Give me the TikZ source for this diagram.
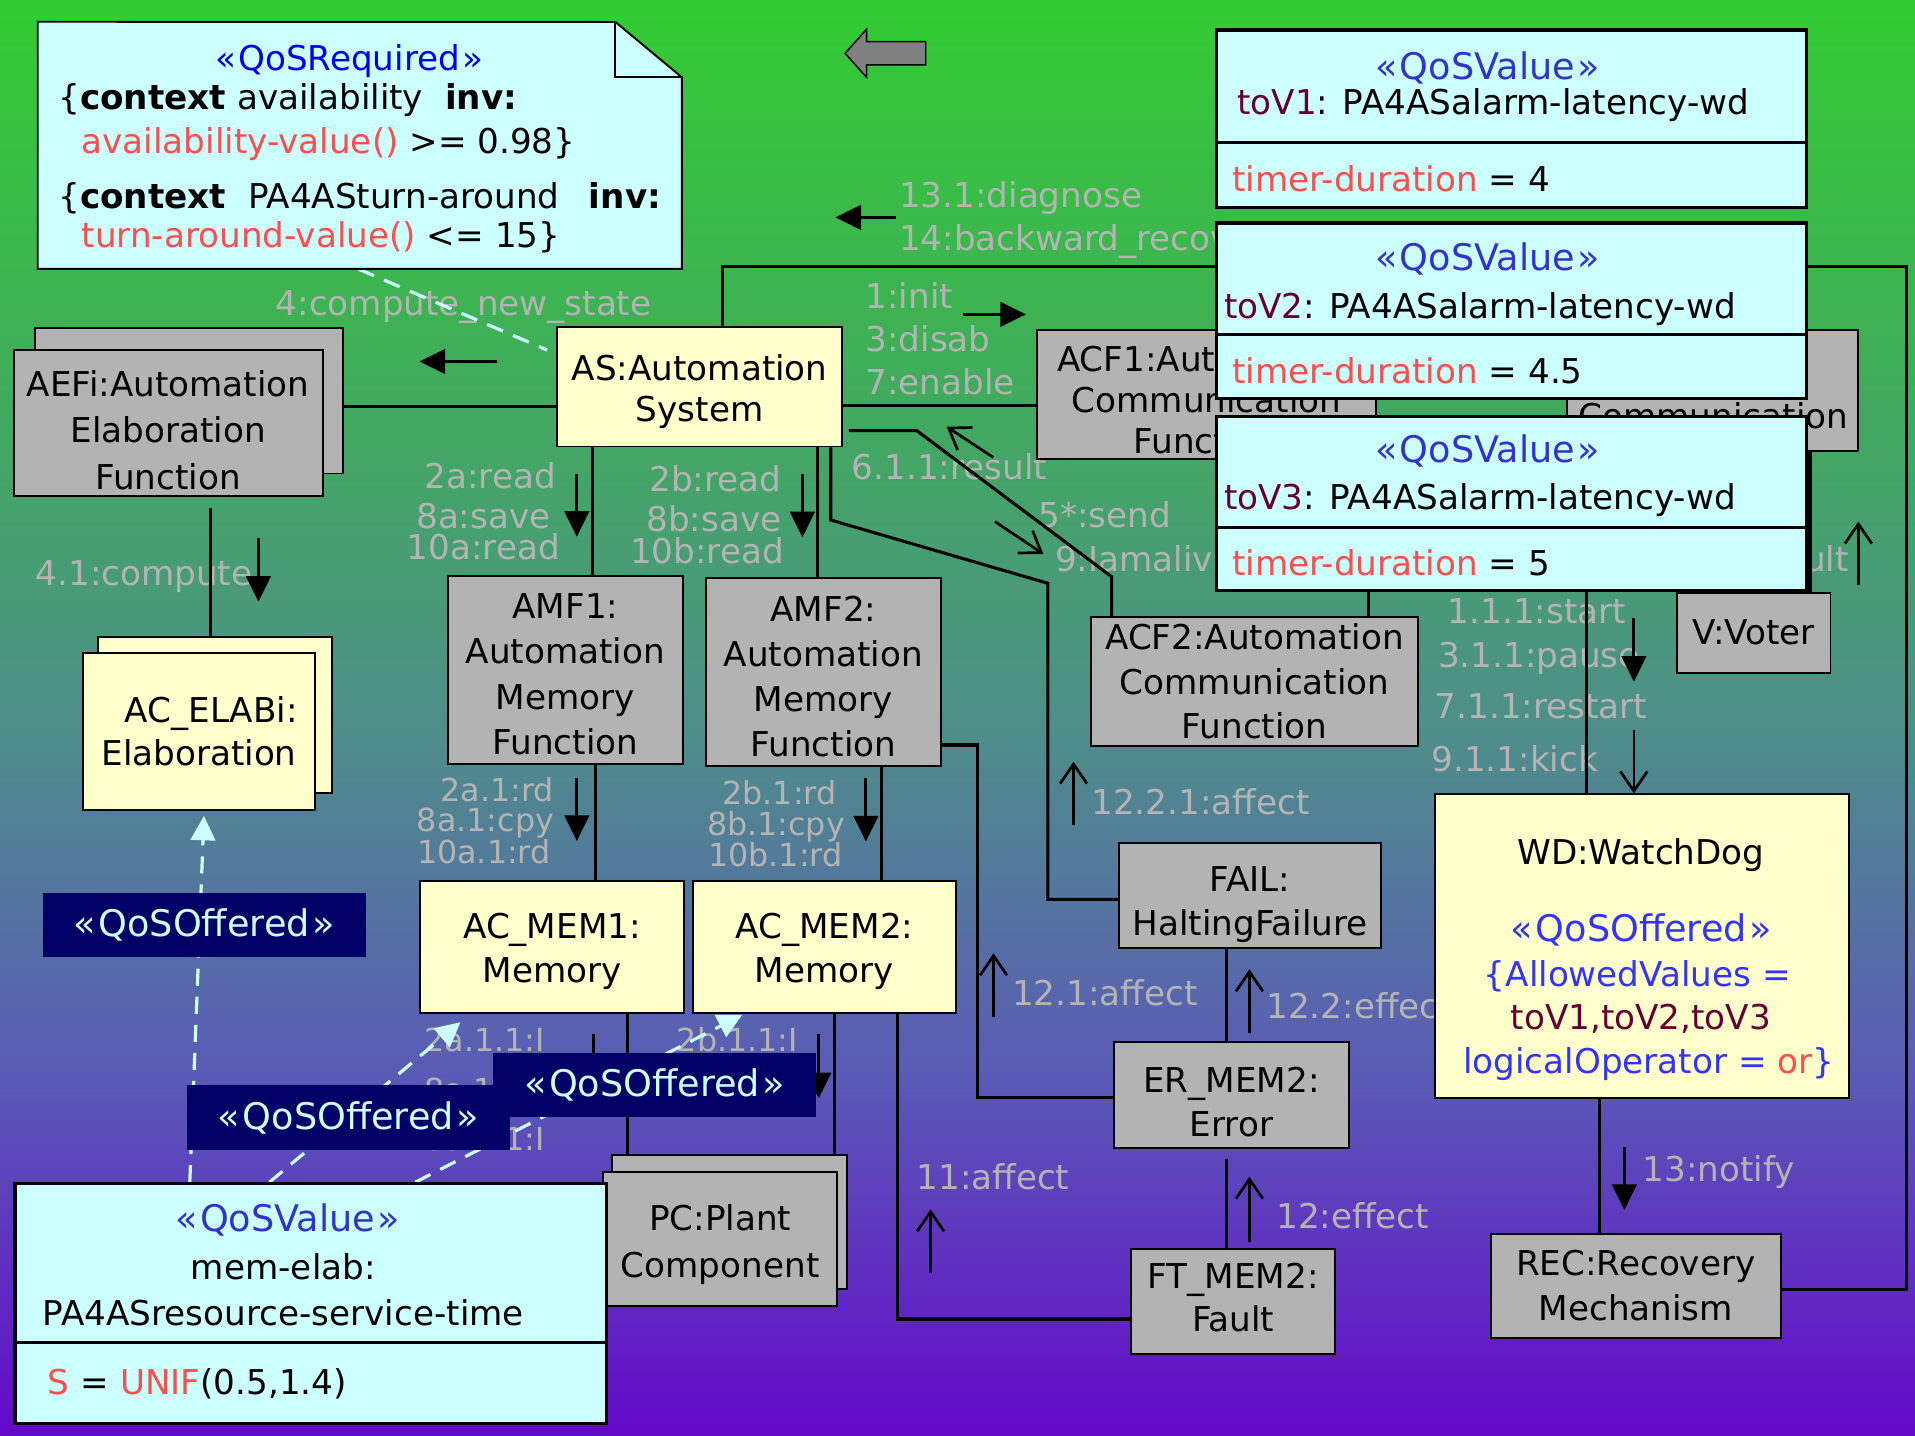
\documentclass[tikz,border=0pt]{standalone}
\usepackage{fontspec}
\setmainfont{DejaVu Sans}
\usetikzlibrary{arrows.meta,calc}

% palette
\definecolor{skyA}{HTML}{33CC33}
\definecolor{skyB}{HTML}{3FAE58}
\definecolor{skyC}{HTML}{4E9088}
\definecolor{skyD}{HTML}{5A5AB6}
\definecolor{skyE}{HTML}{6409C9}
\definecolor{objgray}{HTML}{B3B3B3}
\definecolor{objyellow}{HTML}{FFFFCC}
\definecolor{qoscyan}{HTML}{CCFFFF}
\definecolor{qosnavy}{HTML}{000066}
\definecolor{msggray}{HTML}{B4B4B4}
\definecolor{stereoblue}{HTML}{3333CC}
\definecolor{reqblue}{HTML}{0000EE}
\definecolor{wdblue}{HTML}{3333FF}
\definecolor{attrred}{HTML}{FF4D4D}
\definecolor{valred}{HTML}{660033}
\definecolor{arrowgray}{HTML}{808080}

% the visible part of a TikZ shading is its middle band, 25bp to 75bp
\pgfdeclareverticalshading{backfade}{100bp}{color(0bp)=(skyE); color(25bp)=(skyE); color(37.5bp)=(skyD); color(50bp)=(skyC); color(62.5bp)=(skyB); color(75bp)=(skyA); color(100bp)=(skyA)}

\pgfdeclarelayer{backdrop}
\pgfdeclarelayer{msgtext}
\pgfdeclarelayer{wires}
\pgfsetlayers{backdrop,msgtext,wires,main}

% vertical padding inside multi-line object boxes
\newcommand\toppad[1]{\rule{0pt}{#1pt}}
\newcommand\botpad[1]{\rule[-#1pt]{0pt}{#1pt}}
% stereotype text with slightly opened guillemets
\newcommand\stereo[1]{«\kern2pt#1\kern2pt»}

\tikzset{
  gobj/.style={draw=black, line width=1.6pt, fill=objgray, align=center, inner sep=0pt, font=\fontsize{28}{#1}\selectfont},
  gobj/.default=36,
  yobj/.style={gobj=#1, fill=objyellow},
  yobj/.default=36,
  vbox/.style={draw=black, line width=2.6pt, fill=qoscyan, inner sep=0pt, anchor=north west, minimum width=483.5pt},
  tag/.style={fill=qosnavy, text=qoscyan, inner sep=0pt, font=\fontsize{30}{34}\selectfont},
  txt/.style={inner sep=0pt, font=\fontsize{28}{34}\selectfont},
  stxt/.style={inner sep=0pt, font=\fontsize{30}{34}\selectfont},
  msg/.style={txt, text=msggray},
  smallmsg/.style={msg, font=\fontsize{26}{30}\selectfont},
  wire/.style={draw=black, line width=2.5pt},
  flow/.style={draw=black, line width=2.5pt, -{Triangle[length=21pt,width=20pt]}},
  flowopen/.style={draw=black, line width=2.2pt, -{Straight Barb[length=16pt,width=22pt]}},
  qosdep/.style={draw=qoscyan, line width=2.6pt, dash pattern=on 14pt off 9pt},
  qoshead/.style={qosdep, -{Triangle[length=20pt,width=20pt]}},
}

\begin{document}
\begin{tikzpicture}[x=1pt,y=-1pt]
\begin{pgfonlayer}{backdrop}
  \fill[shading=backfade] (0,0) rectangle (1568,1175);
\end{pgfonlayer}
\useasboundingbox (0,0) rectangle (1568,1175);

% ---------- objects ----------
\node[gobj, minimum width=252pt, minimum height=119pt] (aefiB) at (154.7,328.2) {};
\node[gobj=38, minimum width=253pt, minimum height=119.4pt] (aefi) at (137.6,346.3)
  {\toppad{33}AEFi:Automation\\Elaboration\\Function};

\node[yobj=34, minimum width=233pt, minimum height=98pt] (as) at (572.85,316.6)
  {\toppad{29}AS:Automation\\System};

\node[gobj=37.3, minimum width=192pt, minimum height=154pt] (amf1) at (463,548.7)
  {\toppad{27}AMF1:\\Automation\\Memory\\Function};
\node[gobj=36.9, minimum width=192.5pt, minimum height=154pt] (amf2) at (674.25,550.1)
  {\toppad{28}AMF2:\\Automation\\Memory\\Function};

\node[yobj, minimum width=191.6pt, minimum height=127.7pt] (acelabB) at (176,585.75) {};
\node[yobj=35.5, minimum width=190.5pt, minimum height=128.8pt] (acelab) at (162.95,598.8)
  {\hspace*{20pt}AC\_ELABi:\\Elaboration};

\node[yobj=36, minimum width=216pt, minimum height=107.8pt] (acmem1) at (452,775.3)
  {\toppad{28}AC\_MEM1:\\Memory};
\node[yobj=36, minimum width=216pt, minimum height=107.8pt] (acmem2) at (675.1,775.3)
  {\toppad{28}AC\_MEM2:\\Memory};

\node[gobj, minimum width=192pt, minimum height=110pt] (pcB) at (597.45,1000.7) {};
\node[gobj=38.5, minimum width=191.5pt, minimum height=110pt] (pc) at (589.65,1014.4)
  {\toppad{30}PC:Plant\\Component};

\node[gobj=33.5, minimum width=278.3pt, minimum height=105.6pt] (acf1) at (987.85,322.8)
  {\toppad{30}ACF1:Automation\\Communication\\Function};
\node[gobj, minimum width=238.8pt, minimum height=98.8pt] (acf3) at (1402.2,319.6) {};
\node[txt, anchor=base east] (acf3txt) at (1513.4,350.7) {Communication};

\node[gobj=36.5, minimum width=267.4pt, minimum height=105.8pt] (acf2) at (1027.3,557.9)
  {ACF2:Automation\\Communication\\Function};

\node[gobj=35.6, minimum width=215pt, minimum height=86pt] (fail) at (1023.5,733)
  {\toppad{36}FAIL:\\HaltingFailure};
\node[gobj=35.5, minimum width=191.8pt, minimum height=87.3pt] (er) at (1008.3,896.65)
  {\toppad{32}ER\_MEM2:\\Error};
\node[gobj=35.5, minimum width=167.4pt, minimum height=85.9pt] (ft) at (1009.7,1065.65)
  {FT\_MEM2:\\Fault\botpad{7}};

\node[yobj, minimum width=339.4pt, minimum height=248.8pt] (wd) at (1344.3,774.4) {};
\node[txt, anchor=base] (wdname) at (1343.5,708) {WD:WatchDog};
\node[stxt, text=wdblue, anchor=base] (wdtag) at (1344,771) {\stereo{QoSOffered}};
\node[txt, text=wdblue, anchor=base] (wdallow) at (1340.7,808) {\{AllowedValues =};
\node[txt, text=valred, anchor=base] (wdlist) at (1343.5,843) {toV1,toV2,toV3};
\node[txt, text=wdblue, anchor=base] (wdop) at (1350,878.8) {logicalOperator = \textcolor{attrred}{or}\}};

\node[gobj, minimum width=125.9pt, minimum height=65.5pt] (voter) at (1435.85,518.05) {V:Voter};
\node[gobj=37, minimum width=237.8pt, minimum height=85.8pt] (rec) at (1339.4,1052.9)
  {REC:Recovery\\Mechanism};

% ---------- QoS values of the watchdog timer ----------
\node[vbox, minimum height=92.2pt] (tov1h) at (994.5,23.3) {};
\node[vbox, minimum height=52.9pt] (tov1b) at (994.5,115.5) {};
\node[stxt, text=stereoblue, anchor=base] (tov1tag) at (1218,64.7) {\stereo{QoSValue}};
\node[txt, anchor=base west] (tov1name) at (1013,93.9) {\textcolor{valred}{toV1}: PA4ASalarm-latency-wd};
\node[txt, anchor=base west] (tov1val) at (1009,157) {\textcolor{attrred}{timer-duration} = 4};

\node[vbox, minimum height=91.6pt] (tov2h) at (994.5,181.3) {};
\node[vbox, minimum height=51.8pt] (tov2b) at (994.5,272.9) {};
\node[stxt, text=stereoblue, anchor=base] (tov2tag) at (1218,221.7) {\stereo{QoSValue}};
\node[txt, anchor=base west] (tov2name) at (1002,260.5) {\textcolor{valred}{toV2}: PA4ASalarm-latency-wd};
\node[txt, anchor=base west] (tov2val) at (1009,313.8) {\textcolor{attrred}{timer-duration} = 4.5};

\node[vbox, minimum height=90.7pt] (tov3h) at (994.5,339.9) {};
\node[vbox, minimum height=51.8pt] (tov3b) at (994.5,430.6) {};
\node[stxt, text=stereoblue, anchor=base] (tov3tag) at (1218,378.7) {\stereo{QoSValue}};
\node[txt, anchor=base west] (tov3name) at (1002,417.5) {\textcolor{valred}{toV3}: PA4ASalarm-latency-wd};
\node[txt, anchor=base west] (tov3val) at (1009,471) {\textcolor{attrred}{timer-duration} = 5};

% ---------- QoS value of the memory elaboration ----------
\node[vbox, minimum width=484pt, minimum height=130pt] (memh) at (11,968) {};
\node[vbox, minimum width=484pt, minimum height=66pt] (memb) at (11,1098) {};
\node[stxt, text=stereoblue, anchor=base] (memtag) at (235.6,1008.5) {\stereo{QoSValue}};
\node[txt, anchor=base] (memname) at (232,1048) {mem-elab:};
\node[txt, anchor=base] (memtype) at (232,1085) {PA4ASresource-service-time};
\node[txt, anchor=base west] (memval) at (39.1,1142) {\textcolor{attrred}{S} = \textcolor{attrred}{UNIF}(0.5,1.4)};

% ---------- stereotype tags ----------
\node[tag, minimum width=264.2pt, minimum height=52.3pt] (q1) at (167.2,757.65) {\stereo{QoSOffered}};
\node[tag, minimum width=264.8pt, minimum height=53.2pt] (q2) at (285.3,915) {\stereo{QoSOffered}};
\node[tag, minimum width=264.8pt, minimum height=52.4pt] (q3) at (536,888.7) {\stereo{QoSOffered}};

% ---------- required QoS note ----------
\node[minimum width=527pt, minimum height=202pt, inner sep=0pt] (req) at (294.6,119) {};
\filldraw[fill=qoscyan, draw=black, line width=1.6pt]
  (req.north west) -- (503.9,18) -- (req.north east |- 0,63.3) -- (req.south east) -- (req.south west) -- cycle;
\draw[line width=1.6pt] (503.9,18) |- (req.north east |- 0,63.3);
\node[txt, text=reqblue, anchor=base] (reqtag) at (286,58) {\stereo{QoSRequired}};
\node[txt, anchor=base west] (req1) at (47.6,90) {\{\textbf{context}\hspace{9pt}availability\hspace{18pt}\textbf{inv:}};
\node[txt, anchor=base west] (req2) at (66.7,126) {\textcolor{attrred}{availability-value()} >= 0.98\}};
\node[txt, anchor=base west] (req3) at (47.6,171) {\{\textbf{context}\hspace{18pt}PA4ASturn-around\hspace{24pt}\textbf{inv:}};
\node[txt, anchor=base west] (req4) at (66.7,203) {\textcolor{attrred}{turn-around-value()} <= 15\}};

% back navigation arrow
\filldraw[fill=arrowgray, draw=black, line width=1.2pt]
  (758,34.1) -- (709.5,34.1) -- (709.5,24) -- (692,43.7) -- (709.5,63.3) -- (709.5,53.2) -- (758,53.2) -- cycle;

% ---------- message labels ----------
\begin{pgfonlayer}{msgtext}
\node[msg, anchor=base west] (l131) at (736,170.3) {13.1:diagnose};
\node[msg, anchor=base west] (l14) at (736,205.5) {14:backward\_recovery};
\node[msg, anchor=base west] (l4) at (225.6,258) {4:compute\_new\_state};
\node[msg, anchor=base west] (l1) at (708.6,252.5) {1:init};
\node[msg, anchor=base west] (l3) at (708.6,287.5) {3:disab};
\node[msg, anchor=base west] (l7) at (708.6,323) {7:enable};
\node[msg, anchor=base west] (l611) at (697.4,393) {6.1.1:result};
\node[msg, anchor=base west] (l5) at (850.2,431.8) {5*:send};
\node[msg, anchor=base west] (l9) at (863.8,468.1) {9:Iamalive};
\node[msg, anchor=base east] (l2a) at (455.3,399.8) {2a:read};
\node[msg, anchor=base east] (l8a) at (451,432.6) {8a:save};
\node[msg, anchor=base east] (l10a) at (458.7,458.5) {10a:read};
\node[msg, anchor=base east] (l2b) at (640,402.6) {2b:read};
\node[msg, anchor=base east] (l8b) at (640,434.8) {8b:save};
\node[msg, anchor=base east] (l10b) at (642,461.3) {10b:read};
\node[msg, anchor=base west] (l41) at (29,479) {4.1:compute};
\node[smallmsg, anchor=base east] (l2a1) at (453.8,656.4) {2a.1:rd};
\node[smallmsg, anchor=base east] (l8a1) at (453.8,681) {8a.1:cpy};
\node[smallmsg, anchor=base east] (l10a1) at (451,707.4) {10a.1:rd};
\node[smallmsg, anchor=base east] (l2b1) at (685,659) {2b.1:rd};
\node[smallmsg, anchor=base east] (l8b1) at (692,683.7) {8b.1:cpy};
\node[smallmsg, anchor=base east] (l10b1) at (690,709.6) {10b.1:rd};
\node[smallmsg, anchor=base east] (l2a11) at (446.2,861) {2a.1.1:I};
\node[smallmsg, anchor=base east] (l8a11) at (446,901.6) {8a.1.1:I};
\node[smallmsg, anchor=base east] (l10a11) at (446,942.2) {10a.1.1:I};
\node[smallmsg, anchor=base west] (l2b11) at (554,861.1) {2b.1.1:I};
\node[msg, anchor=base west] (l1221) at (893.5,667.3) {12.2.1:affect};
\node[msg, anchor=base west] (l121) at (828.6,822.9) {12.1:affect};
\node[msg, anchor=base west] (l122) at (1036.7,833.8) {12.2:effect};
\node[msg, anchor=base west] (l11) at (750.3,973.6) {11:affect};
\node[msg, anchor=base west] (l12) at (1044.8,1005.7) {12:effect};
\node[msg, anchor=base west] (l13) at (1344.8,967.5) {13:notify};
\node[msg, anchor=base west] (l111) at (1185.4,510.4) {1.1.1:start};
\node[msg, anchor=base west] (l311) at (1177.3,546.4) {3.1.1:pause};
\node[msg, anchor=base west] (l711) at (1174.6,588.2) {7.1.1:restart};
\node[msg, anchor=base west] (l911) at (1171.9,631.9) {9.1.1:kick};
\node[msg, anchor=base east] (lres) at (1514,468) {result};
\end{pgfonlayer}

% ---------- links and messages ----------
\begin{pgfonlayer}{wires}
\draw[wire] (aefiB.east |- 0,333) -- (as.west |- 0,333);
\draw[wire] (as.south -| 485.4,0) -- (amf1.north -| 485.4,0);
\draw[wire] (as.south -| 669.2,0) -- (amf2.north -| 669.2,0);
\draw[wire] (as.east |- 0,332.4) -- (acf1.west |- 0,332.4);
\draw[wire] ($(as.east |- 0,352.6)+(5,0)$) -- (750.6,352.6) -- (910.2,472.2) -- (acf2.north -| 910.2,0);
\draw[wire] (as.south -| 680.2,0) -- (680.2,425.8) -- (858,477.6) -- (858,736.4) -- (fail.west |- 0,736.4);
\draw[wire] (as.north -| 591.7,0) -- (591.7,218.5) -- (1561,218.5) -- (1561,1055.7) -- (rec.east |- 0,1055.7);
\draw[wire] ($(aefi.south -| 172,0)+(0,9)$) -- (acelabB.north -| 172,0);
\draw[wire] (amf1.south -| 487.4,0) -- (acmem1.north -| 487.4,0);
\draw[wire] (amf2.south -| 722,0) -- (acmem2.north -| 722,0);
\draw[wire] (acmem1.south -| 514,0) -- (pcB.north -| 514,0);
\draw[wire] (acmem2.south -| 683,0) -- (pcB.north -| 683,0);
\draw[wire] (amf2.east |- 0,610) -- (800.5,610) -- (800.5,898.8) -- (er.west |- 0,898.8);
\draw[wire] (acmem2.south -| 735,0) -- (735,1080) -- (ft.west |- 0,1080);
\draw[wire] (fail.south -| 1004.3,0) -- (er.north -| 1004.3,0);
\draw[wire] ($(er.south -| 1004.3,0)+(0,8)$) -- (ft.north -| 1004.3,0);
\draw[wire] (wd.south -| 1309.7,0) -- (rec.north -| 1309.7,0);
\draw[wire] (acf1.south -| 1120.5,0) -- (acf2.north -| 1120.5,0);
\draw[wire] (acf3.south -| 1299,0) -- (wd.north -| 1299,0);
\draw[wire] (acf3.south -| 1482,0) -- (voter.north -| 1482,0);

% QoS dependencies
\draw[qosdep] (req.south -| 293.3,0) -- ($(as.west |- 0,286.6)+(-7.6,0)$);
\draw[qoshead] (memh.north -| 155.4,0) -- ($(acelab.south -| 167,0)+(0,4)$);
\draw[qoshead] (memh.north -| 220.6,0) -- ($(acmem1.south -| 377,0)+(0,7)$);
\draw[qoshead] (memh.north -| 340,0) -- ($(acmem2.south -| 607.7,0)+(0,1)$);

% message direction arrows
\draw[flow] (734,178) -- (684,178);
\draw[flow] (407,296) -- (343.5,296);
\draw[flow] (788.7,257.4) -- (840,257.4);
\draw[flow] (472.3,388) -- (472.3,439.5);
\draw[flow] (657,388) -- (657,440);
\draw[flow] (211.6,440.8) -- (211.6,492.7);
\draw[flow] (472.3,637.3) -- (472.3,688.6);
\draw[flow] (709,637.3) -- (709,689);
\draw[flow] (486,846.9) -- (486,899);
\draw[flow] (670.4,846.9) -- (670.4,899.3);
\draw[flow] (1337.8,506.3) -- (1337.8,558.2);
\draw[flow] (1330,939) -- (1330,990.8);
\draw[flowopen] (813.3,374.5) -- (775.1,349.4);
\draw[flowopen] (814.7,427.1) -- (854.3,453.6);
\draw[flowopen] (879,675.5) -- (879,623.7);
\draw[flowopen] (813.5,832.4) -- (813.5,780.6);
\draw[flowopen] (1023,846) -- (1023,793.7);
\draw[flowopen] (762,1042.6) -- (762,990.2);
\draw[flowopen] (1023,1016.7) -- (1023,963.5);
\draw[flowopen] (1337.8,597.7) -- (1337.8,649.6);
\draw[flowopen] (1521.6,479) -- (1521.6,427.1);
\end{pgfonlayer}
\end{tikzpicture}
\end{document}
